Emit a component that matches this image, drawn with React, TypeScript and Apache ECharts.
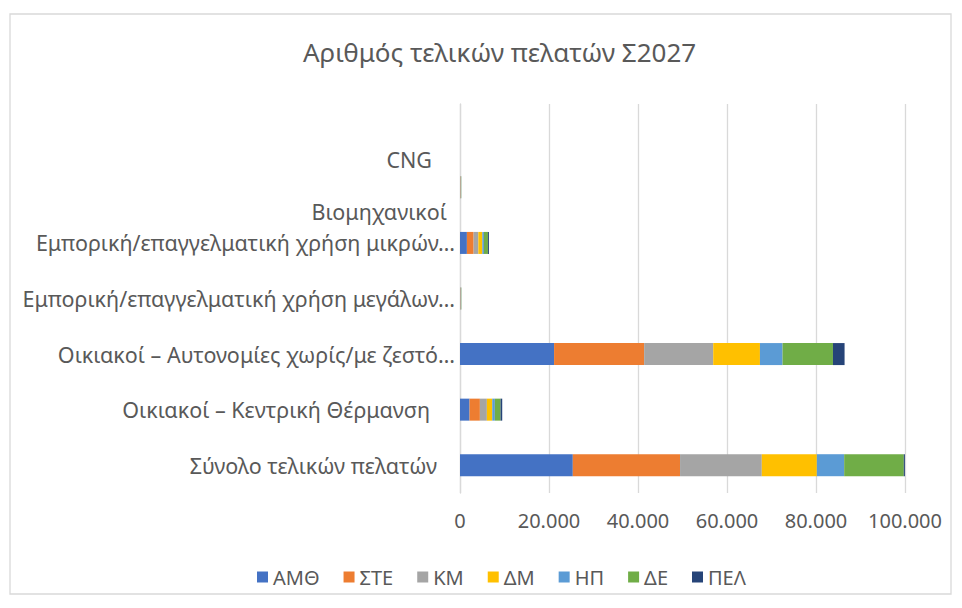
import React, { useEffect, useRef } from "react";
import * as echarts from "echarts";

const titleText = "Αριθμός τελικών πελατών Σ2027";

// top-to-bottom order
const categories = [
  "CNG",
  "Βιομηχανικοί",
  "Εμπορική/επαγγελματική χρήση μικρών…",
  "Εμπορική/επαγγελματική χρήση μεγάλων…",
  "Οικιακοί – Αυτονομίες χωρίς/με ζεστό…",
  "Οικιακοί – Κεντρική Θέρμανση",
  "Σύνολο τελικών πελατών",
];

const seriesNames = ["ΑΜΘ", "ΣΤΕ", "ΚΜ", "ΔΜ", "ΗΠ", "ΔΕ", "ΠΕΛ"];

const amth = [0, 80, 1550, 90, 21140, 2150, 25350];
const ste = [0, 50, 1510, 40, 20240, 2320, 24100];
const km = [0, 60, 1060, 70, 15520, 1570, 18370];
const dm = [0, 30, 900, 30, 10500, 1210, 12370];
const ip = [0, 20, 360, 20, 5080, 580, 6140];
const de = [0, 40, 900, 50, 11330, 1280, 13400];
const pel = [0, 10, 220, 10, 2610, 380, 250];

const seriesValues = [amth, ste, km, dm, ip, de, pel];

const colors = ["#4472C4", "#ED7D31", "#A5A5A5", "#FFC000", "#5B9BD5", "#70AD47", "#264478"];

const xTicks = { min: 0, max: 100000, interval: 20000 };

// label offsets (visual only): [top padding, right padding]
const labelPads: number[][] = [
  [56, 23],
  [48, 8],
  [0, 0],
  [0, 0],
  [0, 0],
  [0, 25],
  [0, 18],
];

function fmt(v: number): string {
  return String(v).replace(/\B(?=(\d{3})+(?!\d))/g, ".");
}

export default function App() {
  const ref = useRef<HTMLDivElement>(null);
  useEffect(() => {
    if (!ref.current) return;
    const chart = echarts.init(ref.current, undefined, { renderer: "svg" });
    const font = "'Noto Sans', sans-serif";
    const rich: Record<string, any> = {};
    labelPads.forEach((p, i) => {
      rich["p" + i] = {
        fontFamily: font,
        fontSize: 21.5,
        color: "#595959",
        padding: [p[0], p[1], 0, 0],
      };
    });
    chart.setOption({
      animation: false,
      backgroundColor: "#ffffff",
      color: colors,
      title: {
        text: titleText,
        left: 298,
        top: 34,
        textStyle: { fontFamily: font, fontSize: 26, fontWeight: "normal", color: "#595959" },
      },
      legend: {
        data: seriesNames,
        top: 562,
        left: 252,
        itemWidth: 11,
        itemHeight: 11,
        itemGap: 24,
        icon: "rect",
        textStyle: { fontFamily: font, fontSize: 20, color: "#595959" },
      },
      grid: { left: 460, right: 57, top: 104, bottom: 115, containLabel: false },
      xAxis: {
        type: "value",
        min: xTicks.min,
        max: xTicks.max,
        interval: xTicks.interval,
        axisLine: { show: false },
        axisTick: { show: false },
        splitLine: { show: true, lineStyle: { color: "#d9d9d9", width: 1.3 } },
        axisLabel: {
          margin: 17,
          fontFamily: font,
          fontSize: 20,
          color: "#595959",
          formatter: (v: number) => fmt(v),
        },
      },
      yAxis: {
        type: "category",
        inverse: true,
        data: categories,
        axisLine: { show: true, lineStyle: { color: "#d9d9d9", width: 1.3 } },
        axisTick: { show: false },
        axisLabel: {
          margin: 5,
          formatter: (v: string, i: number) => "{p" + i + "|" + v + "}",
          rich,
        },
      },
      series: seriesNames.map((n, i) => ({
        name: n,
        type: "bar",
        stack: "total",
        barWidth: 22,
        data: seriesValues[i],
        itemStyle: { color: colors[i] },
      })),
      graphic: [
        {
          type: "rect",
          shape: { x: 10, y: 14, width: 941, height: 580 },
          style: { fill: "none", stroke: "#d9d9d9", lineWidth: 1.3 },
          silent: true,
        },
      ],
    });
    return () => chart.dispose();
  }, []);
  return (
    <div
      ref={ref}
      style={{ position: "fixed", left: 0, top: 0, width: 962, height: 608 }}
    />
  );
}
